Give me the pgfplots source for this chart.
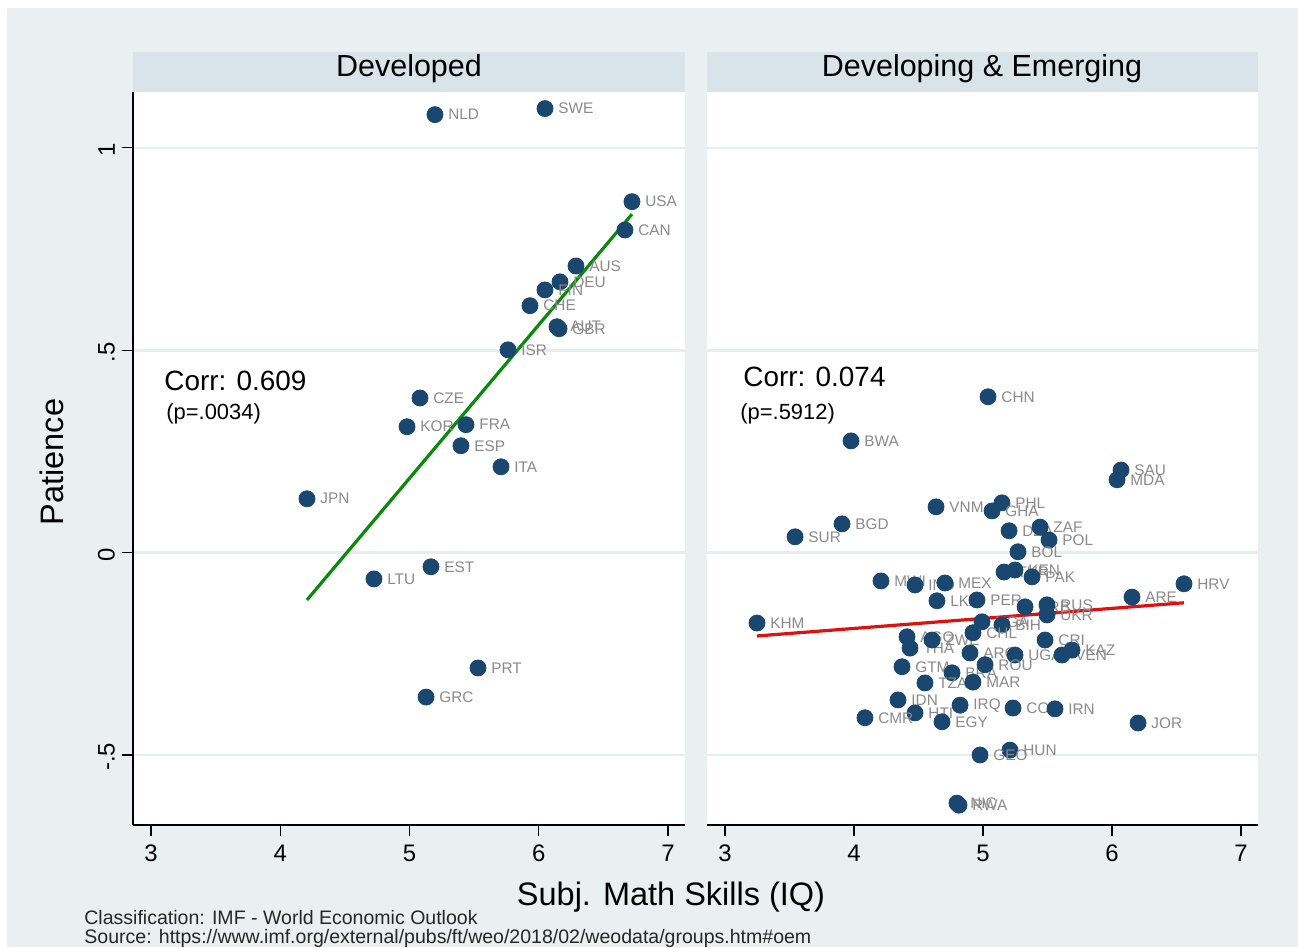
\documentclass[border=0pt]{standalone}
\usepackage{pgfplots}
\pgfplotsset{compat=1.18}
\usepackage{pgfplotstable}
\usepackage{fontspec}
\setmainfont{Liberation Sans}
\definecolor{bgc}{HTML}{EAF0F2}
\definecolor{strip}{HTML}{D8E4EA}
\definecolor{navy}{HTML}{1A476F}
\definecolor{lab}{HTML}{8A8A8A}
\definecolor{gridc}{HTML}{E6EEF1}
\definecolor{fitgreen}{HTML}{0A8A0A}
\definecolor{fitred}{HTML}{E01010}

\pgfplotstableread{
x y label
5.197 1.082 NLD
6.048 1.097 SWE
6.721 0.867 USA
6.667 0.797 CAN
6.288 0.708 AUS
6.164 0.669 DEU
6.048 0.649 FIN
5.932 0.610 CHE
6.141 0.558 AUT
6.157 0.553 GBR
5.762 0.501 ISR
5.081 0.382 CZE
4.981 0.311 KOR
5.437 0.316 FRA
5.398 0.264 ESP
5.708 0.212 ITA
4.207 0.133 JPN
5.166 -0.035 EST
4.725 -0.065 LTU
5.530 -0.285 PRT
5.128 -0.357 GRC
}\devd

\pgfplotstableread{
x y label
5.039 0.385 CHN
3.977 0.276 BWA
6.070 0.204 SAU
6.039 0.180 MDA
4.636 0.113 VNM
5.147 0.123 PHL
5.070 0.103 GHA
5.202 0.054 DZA
5.442 0.063 ZAF
5.512 0.031 POL
5.271 0.002 BOL
5.163 -0.048 TUR
5.248 -0.043 KEN
5.380 -0.060 PAK
4.209 -0.070 MWI
4.473 -0.080 IND
4.705 -0.075 MEX
4.643 -0.119 LKA
4.953 -0.117 PER
5.326 -0.134 SRB
5.496 -0.129 RUS
5.496 -0.154 UKR
4.992 -0.171 NGA
5.147 -0.179 BIH
4.411 -0.208 AGO
4.434 -0.236 THA
4.605 -0.216 ZWE
4.922 -0.198 CHL
5.481 -0.216 CRI
4.899 -0.248 ARG
5.248 -0.253 UGA
5.612 -0.253 VEN
5.690 -0.241 KAZ
4.372 -0.282 GTM
4.760 -0.297 BRA
5.016 -0.277 ROU
4.550 -0.322 TZA
4.922 -0.320 MAR
4.341 -0.364 IDN
4.822 -0.377 IRQ
5.233 -0.384 COL
5.558 -0.386 IRN
4.473 -0.396 HTI
4.682 -0.418 EGY
4.085 -0.408 CMR
6.202 -0.421 JOR
5.209 -0.488 HUN
4.977 -0.500 GEO
4.798 -0.619 NIC
4.814 -0.624 RWA
3.248 -0.174 KHM
3.543 0.039 SUR
3.907 0.071 BGD
6.155 -0.110 ARE
6.558 -0.077 HRV
}\deve

\pgfplotsset{
  panel/.style={
    scale only axis,
    height=366.5bp,
    ymin=-0.673, ymax=1.138,
    axis background/.style={fill=white},
    axis x line=bottom, axis y line=left,
    axis line style={-, black, line width=0.6bp},
    tick align=outside,
    major tick length=5.5bp,
    tick style={black, line width=0.6bp},
    xtick={3,4,5,6,7}, xticklabels={3,4,5,6,7},
    ytick={-0.5,0,0.5,1}, yticklabels={-.5,0,.5,1},
    ymajorgrids, grid style={gridc, line width=1.3bp},
    ticklabel style={font=\fontsize{12}{14}\selectfont},
    xticklabel style={yshift=-1bp},
    clip=false,
  },
  pts/.style={
    only marks, mark=*, mark size=4bp,
    mark options={draw=navy, fill=navy},
    nodes near coords, point meta=explicit symbolic,
    every node near coord/.append style={anchor=west, inner sep=0pt,
      xshift=6.5bp, font=\fontsize{7.7}{8}\selectfont, text=lab},
  },
}

\begin{document}
\begin{tikzpicture}[x=0.5bp,y=0.5bp]
\useasboundingbox (0,0) rectangle (1298,947);
\fill[white] (0,0) rectangle (1298,947);
\fill[bgc] (7,0) rectangle (1298,939);
\fill[strip] (133,855) rectangle (685,895);
\fill[strip] (707,855) rectangle (1258,895);
\node[font=\fontsize{15.3}{18}\selectfont] at (409,878) {Developed};
\node[font=\fontsize{15.3}{18}\selectfont] at (982,878) {Developing \& Emerging};

\begin{axis}[panel, at={(66.5bp,61bp)}, anchor=south west,
  width=276bp, xmin=2.861, xmax=7.1315,
  yticklabel style={rotate=90, anchor=south, xshift=-1bp}]
\addplot[fitgreen, line width=1.6bp] coordinates {(4.207,-0.117) (6.721,0.836)};
\addplot[pts] table[meta=label]{\devd};
\end{axis}

\begin{axis}[panel, at={(353.5bp,61bp)}, anchor=south west,
  width=275.5bp, xmin=2.8605, xmax=7.132,
  y axis line style={draw=none}, ytick style={draw=none}, yticklabels={}]
\addplot[fitred, line width=1.6bp] coordinates {(3.248,-0.206) (6.558,-0.124)};
\addplot[pts] table[meta=label]{\deve};
\end{axis}

\node[anchor=west, inner sep=0pt, font=\fontsize{14}{16}\selectfont] at (164,566) {Corr: 0.609};
\node[anchor=west, inner sep=0pt, font=\fontsize{11}{13}\selectfont] at (166,533) {(p=.0034)};
\node[anchor=west, inner sep=0pt, font=\fontsize{14}{16}\selectfont] at (743,570) {Corr: 0.074};
\node[anchor=west, inner sep=0pt, font=\fontsize{11}{13}\selectfont] at (740,533) {(p=.5912)};

\node[rotate=90, font=\fontsize{16.3}{18}\selectfont] at (52,485) {Patience};
\node[font=\fontsize{16.3}{18}\selectfont] at (671,50) {Subj. Math Skills (IQ)};
\node[anchor=west, inner sep=0pt, font=\fontsize{9.8}{11}\selectfont, text=black!85] at (84,29) {Classification: IMF - World Economic Outlook};
\node[anchor=west, inner sep=0pt, font=\fontsize{9.8}{11}\selectfont, text=black!85] at (84,9) {Source: https://www.imf.org/external/pubs/ft/weo/2018/02/weodata/groups.htm\#oem};
\end{tikzpicture}
\end{document}
